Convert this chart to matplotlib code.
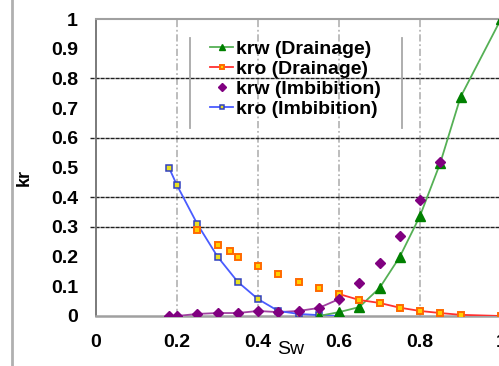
import numpy as np
import matplotlib
matplotlib.use("Agg")
import matplotlib.pyplot as plt
from matplotlib.lines import Line2D

plt.rcParams['font.family'] = ['Liberation Sans', 'DejaVu Sans']

# kr data
sw_krw_dr = [0.55, 0.60, 0.65, 0.70, 0.75, 0.80, 0.85, 0.90, 1.00]
krw_dr = [0.0, 0.013, 0.03, 0.094, 0.199, 0.337, 0.515, 0.737, 1.0]

sw_kro_dr_pts = [0.25, 0.30, 0.33, 0.35, 0.40, 0.45, 0.50, 0.55]
kro_dr_pts = [0.29, 0.24, 0.22, 0.20, 0.168, 0.14, 0.114, 0.094]
sw_kro_dr = [0.60, 0.65, 0.70, 0.75, 0.80, 0.85, 0.90, 1.00]
kro_dr = [0.074, 0.054, 0.044, 0.028, 0.017, 0.01, 0.004, 0.0]

sw_krw_im = [0.18, 0.20, 0.25, 0.30, 0.35, 0.40, 0.45, 0.50, 0.55, 0.60,
             0.65, 0.70, 0.75, 0.80, 0.85]
krw_im = [0.0, 0.0, 0.007, 0.01, 0.01, 0.017, 0.013, 0.017, 0.027, 0.057,
          0.11, 0.18, 0.27, 0.39, 0.52]

sw_kro_im = [0.18, 0.20, 0.25, 0.30, 0.35, 0.40, 0.45, 0.50, 0.55, 0.60]
kro_im = [0.50, 0.44, 0.31, 0.20, 0.115, 0.057, 0.017, 0.007, 0.003, 0.0]

hlines = [0.3, 0.4, 0.6, 0.8]
vlines = [0.2, 0.4, 0.6, 0.8]
yticks = [0, 0.1, 0.2, 0.3, 0.4, 0.5, 0.6, 0.7, 0.8, 0.9, 1]
xticks = [0, 0.2, 0.4, 0.6, 0.8, 1]

W, H = 499, 366
fig = plt.figure(figsize=(W / 100, H / 100), dpi=100)
ax = fig.add_axes([96 / W, 1 - 316 / H, 405 / W, 297 / H])
ax.set_xlim(0, 1)
ax.set_ylim(0, 1)

for v in vlines:
    ax.axvline(v, color='#b8b8b8', lw=1.3, ls=(0, (4, 1.5, 1, 1.5)), zorder=1)
for h in hlines:
    ax.plot([-0.015, 1], [h, h], color='#202020', lw=1.0, ls=(0, (3, 0.6)),
            clip_on=False, zorder=1)

# imbibition
ax.plot(sw_kro_im, kro_im, color='#4a5cff', lw=1.3, marker='s', ms=5,
        mfc='#e8e020', mec='#3040c0', mew=1.1, zorder=4, label='kro (Imbibition)')
n_line = sw_krw_im.index(0.60) + 1
ax.plot(sw_krw_im[:n_line], krw_im[:n_line], color='#a040a0', lw=1.3, zorder=3)
ax.plot(sw_krw_im, krw_im, ls='none', marker='D', ms=5.5, color='#800080',
        zorder=5, label='krw (Imbibition)')

# drainage
ax.plot(sw_krw_dr, krw_dr, color='#55b055', lw=1.3, marker='^', ms=7,
        mfc='#008000', mec='#008000', zorder=4, label='krw (Drainage)')
ax.plot(sw_kro_dr, kro_dr, color='#ff3030', lw=1.3, marker='s', ms=5,
        mfc='#ffd000', mec='#ff6a00', mew=1.4, zorder=4, label='kro (Drainage)')
ax.plot(sw_kro_dr_pts, kro_dr_pts, ls='none', marker='s', ms=5,
        mfc='#ffd000', mec='#ff6a00', mew=1.4, zorder=4)

ax.spines['right'].set_visible(False)
ax.spines['top'].set_color('#a0a0a0')
ax.spines['top'].set_linewidth(1.5)
ax.spines['left'].set_color('#707070')
ax.spines['left'].set_linewidth(1.3)
ax.spines['bottom'].set_color('#a0a0a0')
ax.spines['bottom'].set_linewidth(1.8)

ax.set_yticks(yticks)
ax.set_yticklabels(['0' if t == 0 else ('1' if t == 1 else '%.1f' % t) for t in yticks])
ax.set_xticks(xticks)
ax.set_xticklabels(['0' if t == 0 else ('1' if t == 1 else '%.1f' % t) for t in xticks])
ax.tick_params(axis='y', length=0, pad=13, labelsize=14)
ax.tick_params(axis='x', length=0, pad=13, labelsize=14)
for lab in ax.get_xticklabels() + ax.get_yticklabels():
    lab.set_fontweight('bold')

ax.set_ylabel('kr', fontsize=13, fontweight='bold')
ax.yaxis.set_label_coords(-0.156, 0.468)
ax.set_xlabel('Sw', fontsize=14)
ax.xaxis.set_label_coords(0.48, -0.085)

handles, labels = ax.get_legend_handles_labels()
order = [labels.index(l) for l in ['krw (Drainage)', 'kro (Drainage)',
                                   'krw (Imbibition)', 'kro (Imbibition)']]
leg = ax.legend([handles[i] for i in order], [labels[i] for i in order],
                loc='upper left', bbox_to_anchor=(210 / W, 1 - 40 / H),
                bbox_transform=fig.transFigure, frameon=False, borderpad=0,
                borderaxespad=0, handlelength=1.2, handletextpad=0.15,
                labelspacing=0.13, markerscale=0.7,
                prop={'weight': 'bold', 'size': 14})

# legend side bars and left figure border
for x in [190, 402]:
    fig.add_artist(Line2D([x / W, x / W], [1 - 38 / H, 1 - 128 / H],
                          color='#a8a8a8', lw=1.3))
fig.add_artist(Line2D([12 / W, 12 / W], [0, 1], color='#b0b0b0', lw=2))

fig.savefig('out.png', dpi=100)
